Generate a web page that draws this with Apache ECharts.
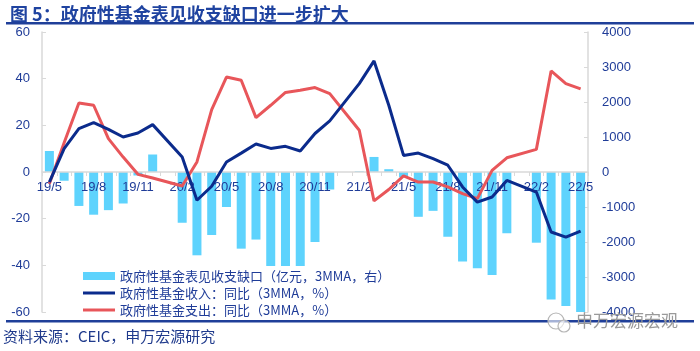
<!DOCTYPE html>
<html>
<head>
<meta charset="utf-8">
<script src="https://cdn.jsdelivr.net/npm/echarts@6/dist/echarts.min.js"></script>
<style>
  html, body { margin: 0; padding: 0; background: #fff; }
  #chart { width: 700px; height: 351px; }
</style>
</head>
<body>
<div id="chart"></div>
<script>
// 月份（1月数据缺失，按2月合并）
const months = ['19/5', '19/6', '19/7', '19/8', '19/9', '19/10', '19/11', '19/12',
  '20/1', '20/2', '20/3', '20/4', '20/5', '20/6', '20/7', '20/8', '20/9', '20/10', '20/11', '20/12',
  '21/1', '21/2', '21/3', '21/4', '21/5', '21/6', '21/7', '21/8', '21/9', '21/10', '21/11', '21/12',
  '22/1', '22/2', '22/3', '22/4', '22/5']
// 政府性基金表见收支缺口（亿元，3MMA，右轴）
const gapValues = [600, -250, -970, -1220, -1090, -900, -100, 500,
  null, -1450, -2380, -1800, -1000, -2190, -1930, -3000, -3300, -3100, -2000, -500,
  null, 20, 430, 80, -150, -1280, -1110, -1850, -2560, -2750, -2940, -1750,
  null, -2020, -3640, -3830, -4000]
// 政府性基金收入同比（3MMA，%）
const revenueYoy = [-4.3, 10, 18.6, 21.2, 18.3, 15, 16.7, 20.3,
  null, 6.4, -12.1, -6.1, 4.3, 8.1, 12, 10.1, 11, 9, 16.5, 21.9,
  null, 37.9, 47.6, 28.6, 7.1, 8.1, 5.7, 2.9, -6.4, -12.9, -10.7, -3.6,
  null, -8.6, -25.7, -27.9, -25.3]
// 政府性基金支出同比（3MMA，%）
const expenseYoy = [-5, 12.5, 29.6, 28.6, 14.3, 6.4, -1, -2.6,
  null, -6, 4.3, 26.7, 40.7, 39.3, 23.3, 28.6, 34.1, 35, 36.2, 33.6,
  null, 17.9, -12.4, -7.5, -1.7, -4.3, -4.3, -6.4, -9.3, -11.4, 0.7, 6.1,
  null, 9.7, 43.3, 37.9, 35.6]
const leftTicks = [-60, -40, -20, 0, 20, 40, 60]
const rightTicks = [-4000, -3000, -2000, -1000, 0, 1000, 2000, 3000, 4000]

const names = [
  '政府性基金表见收支缺口（亿元，3MMA，右）',
  '政府性基金收入：同比（3MMA，%）',
  '政府性基金支出：同比（3MMA，%）'
]
const navy = '#1f3c98'
const axisGray = '#d9d9d9'
const font = '"Liberation Sans", Arial, "Noto Sans CJK SC", sans-serif'
const cjk = '"Noto Sans CJK SC", sans-serif'
const legendText = { color: navy, fontSize: 13, lineHeight: 14, fontFamily: cjk }

const gridTop = 32
const gridBottom = 39
const gridHeight = 351 - gridTop - gridBottom

var myChart = echarts.init(document.getElementById('chart'))
const option = {
  animation: false,
  textStyle: { fontFamily: font },
  title: {
    text: '图 5：政府性基金表见收支缺口进一步扩大',
    left: 5,
    top: 0,
    textStyle: { color: '#1f43a0', fontSize: 18, fontWeight: 'bold', fontFamily: cjk }
  },
  graphic: [
    { type: 'rect', z: 100, shape: { x: 6, y: 22, width: 688, height: 2.5 }, style: { fill: '#1f3f99' } },
    { type: 'rect', z: 100, shape: { x: 6, y: 320, width: 688, height: 2.5 }, style: { fill: '#1f3f99' } },
    {
      type: 'text', z: 100, left: 3, top: 329,
      style: { text: '资料来源：CEIC，申万宏源研究', fill: '#1f3a8c', fontSize: 15, fontFamily: cjk }
    },
    { type: 'circle', z: 101, shape: { cx: 556, cy: 321, r: 8 }, style: { fill: 'rgba(255,255,255,0.6)', stroke: '#b5b5b5', lineWidth: 1.2 } },
    { type: 'circle', z: 101, shape: { cx: 564, cy: 326, r: 6 }, style: { fill: 'rgba(255,255,255,0.6)', stroke: '#b5b5b5', lineWidth: 1.2 } },
    {
      type: 'text', z: 101, left: 576, top: 312,
      style: { text: '申万宏源宏观', fill: '#9a9a9a', fontSize: 17, fontFamily: cjk }
    }
  ],
  legend: [
    {
      orient: 'vertical',
      left: 79,
      top: 266,
      padding: [3, 4, 2, 4],
      backgroundColor: '#fff',
      itemWidth: 32,
      itemHeight: 8,
      textStyle: legendText,
      data: [{ name: names[0], icon: 'rect' }],
      z: 20
    },
    {
      orient: 'vertical',
      left: 79,
      top: 284,
      padding: [2, 4, 1, 4],
      backgroundColor: '#fff',
      itemWidth: 32,
      itemHeight: 3,
      itemGap: 3,
      icon: 'rect',
      textStyle: legendText,
      data: [names[1], names[2]],
      z: 20
    }
  ],
  grid: { left: 42, right: 112, top: gridTop, bottom: gridBottom },
  xAxis: {
    type: 'category',
    data: months,
    z: 3,
    // 横轴画在 0 值处
    offset: -gridHeight / 2,
    axisLine: { onZero: false, lineStyle: { color: axisGray, width: 1.5 } },
    axisTick: { show: true, interval: 0, length: 4, lineStyle: { color: axisGray } },
    axisLabel: { interval: 2, color: navy, fontSize: 13, margin: 9 }
  },
  yAxis: [
    {
      type: 'value',
      min: leftTicks[0],
      max: leftTicks[leftTicks.length - 1],
      interval: 20,
      splitLine: { show: false },
      axisLine: { show: true, lineStyle: { color: axisGray, width: 1.5 } },
      axisTick: { show: true, inside: true, length: 4, lineStyle: { color: axisGray } },
      axisLabel: { color: navy, fontSize: 13, margin: 12 }
    },
    {
      type: 'value',
      min: rightTicks[0],
      max: rightTicks[rightTicks.length - 1],
      interval: 1000,
      splitLine: { show: false },
      axisLine: { show: true, lineStyle: { color: axisGray, width: 1.5 } },
      axisTick: { show: true, inside: true, length: 4, lineStyle: { color: axisGray } },
      axisLabel: { color: navy, fontSize: 13, margin: 14, formatter: (v) => String(v) }
    }
  ],
  series: [
    {
      name: names[0],
      type: 'bar',
      yAxisIndex: 1,
      data: gapValues,
      barWidth: 9,
      itemStyle: { color: '#5ed3fd' },
      z: 2
    },
    {
      name: names[1],
      type: 'line',
      yAxisIndex: 0,
      data: revenueYoy,
      connectNulls: true,
      symbol: 'none',
      lineStyle: { color: '#0b2b8c', width: 3 },
      itemStyle: { color: '#0b2b8c' },
      z: 6
    },
    {
      name: names[2],
      type: 'line',
      yAxisIndex: 0,
      data: expenseYoy,
      connectNulls: true,
      symbol: 'none',
      lineStyle: { color: '#e8565a', width: 3 },
      itemStyle: { color: '#e8565a' },
      z: 5
    }
  ]
}
myChart.setOption(option)
window.addEventListener('resize', () => {
  myChart.resize()
})
</script>
</body>
</html>
